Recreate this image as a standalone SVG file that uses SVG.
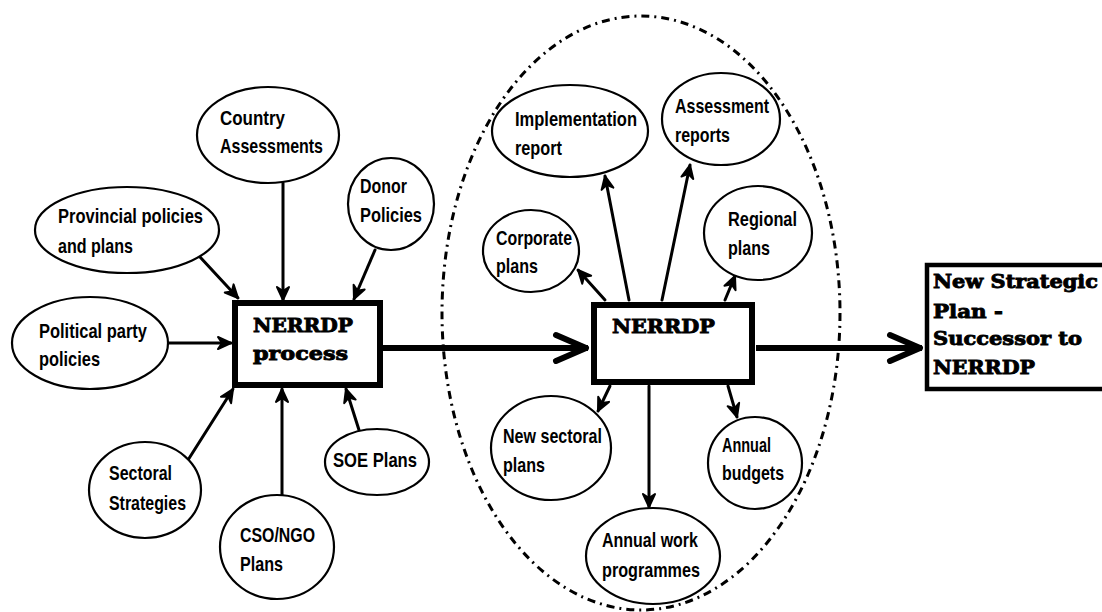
<svg xmlns="http://www.w3.org/2000/svg" width="1102" height="612" viewBox="0 0 1102 612">
<style>
.bg{fill:#fff}
.ell{fill:#fff;stroke:#000;stroke-width:2.2}
.t{font-family:"Liberation Sans Narrow","Liberation Sans",Arial,sans-serif;font-weight:bold;font-size:21px;fill:#000}
.b{font-family:"DejaVu Serif","Liberation Serif",serif;font-weight:bold;font-size:19px;fill:#000;stroke:#000;stroke-width:0.9}
.box{fill:#fff;stroke:#000;stroke-width:6}
.c{stroke:#000;stroke-width:3;fill:none;stroke-linecap:round}
.m{stroke:#000;stroke-width:6;fill:none}
</style>
<defs>
<marker id="ah" viewBox="-16 -10 20 20" markerWidth="20" markerHeight="20" refX="0" refY="0" orient="auto" markerUnits="userSpaceOnUse" overflow="visible">
<path d="M-13,-6 L0,0 L-13,6 L-9,0 Z" fill="#000" stroke="#000" stroke-width="2" stroke-linejoin="round"/>
</marker>
<marker id="big" viewBox="-40 -20 44 40" markerWidth="44" markerHeight="40" refX="0" refY="0" orient="auto" markerUnits="userSpaceOnUse" overflow="visible">
<path d="M-32,-13 L-2,0 L-32,13" fill="none" stroke="#000" stroke-width="6" stroke-linecap="round" stroke-linejoin="round"/>
</marker>
</defs>
<rect class="bg" x="0" y="0" width="1102" height="612"/>

<ellipse id="boundary" cx="641" cy="313" rx="199" ry="297" fill="none" stroke="#000" stroke-width="3" stroke-dasharray="8 5 2 5"/>

<g id="connectors">
<line class="c" x1="283" y1="183" x2="283" y2="300" marker-end="url(#ah)"/>
<line class="c" x1="375" y1="250" x2="354" y2="299" marker-end="url(#ah)"/>
<line class="c" x1="200" y1="257" x2="238" y2="298" marker-end="url(#ah)"/>
<line class="c" x1="167" y1="343" x2="231" y2="343" marker-end="url(#ah)"/>
<line class="c" x1="188" y1="460" x2="233" y2="389" marker-end="url(#ah)"/>
<line class="c" x1="282" y1="495" x2="282" y2="389" marker-end="url(#ah)"/>
<line class="c" x1="359" y1="430" x2="346" y2="389" marker-end="url(#ah)"/>
<line class="m" x1="381" y1="348" x2="588" y2="348" marker-end="url(#big)"/>
<line class="m" x1="756" y1="348" x2="922" y2="348" marker-end="url(#big)"/>
<line class="c" x1="629" y1="300" x2="605" y2="176" marker-end="url(#ah)"/>
<line class="c" x1="662" y1="300" x2="690" y2="165" marker-end="url(#ah)"/>
<line class="c" x1="605" y1="300" x2="578" y2="270" marker-end="url(#ah)"/>
<line class="c" x1="725" y1="300" x2="735" y2="276" marker-end="url(#ah)"/>
<line class="c" x1="610" y1="386" x2="598" y2="411" marker-end="url(#ah)"/>
<line class="c" x1="649" y1="386" x2="649" y2="507" marker-end="url(#ah)"/>
<line class="c" x1="728" y1="386" x2="737" y2="417" marker-end="url(#ah)"/>
</g>

<g id="country">
<ellipse class="ell" cx="268" cy="135" rx="71" ry="48"/>
<text class="t" x="220" y="125" textLength="65" lengthAdjust="spacingAndGlyphs">Country</text>
<text class="t" x="220" y="153" textLength="103" lengthAdjust="spacingAndGlyphs">Assessments</text>
</g>
<g id="donor">
<ellipse class="ell" cx="391" cy="204" rx="43" ry="46"/>
<text class="t" x="360" y="193" textLength="47" lengthAdjust="spacingAndGlyphs">Donor</text>
<text class="t" x="360" y="222" textLength="62" lengthAdjust="spacingAndGlyphs">Policies</text>
</g>
<g id="provincial">
<ellipse class="ell" cx="127" cy="230" rx="92" ry="43"/>
<text class="t" x="58" y="223" textLength="145" lengthAdjust="spacingAndGlyphs">Provincial policies</text>
<text class="t" x="58" y="253" textLength="75" lengthAdjust="spacingAndGlyphs">and plans</text>
</g>
<g id="political">
<ellipse class="ell" cx="90" cy="343" rx="78" ry="46"/>
<text class="t" x="39" y="338" textLength="108" lengthAdjust="spacingAndGlyphs">Political party</text>
<text class="t" x="39" y="366" textLength="61" lengthAdjust="spacingAndGlyphs">policies</text>
</g>
<g id="sectoral">
<ellipse class="ell" cx="145" cy="490" rx="56" ry="48"/>
<text class="t" x="109" y="480" textLength="63" lengthAdjust="spacingAndGlyphs">Sectoral</text>
<text class="t" x="109" y="510" textLength="77" lengthAdjust="spacingAndGlyphs">Strategies</text>
</g>
<g id="cso">
<ellipse class="ell" cx="277" cy="547" rx="57" ry="52"/>
<text class="t" x="240" y="542" textLength="75" lengthAdjust="spacingAndGlyphs">CSO/NGO</text>
<text class="t" x="240" y="571" textLength="43" lengthAdjust="spacingAndGlyphs">Plans</text>
</g>
<g id="soe">
<ellipse class="ell" cx="377" cy="462" rx="52" ry="33"/>
<text class="t" x="333" y="467" textLength="84" lengthAdjust="spacingAndGlyphs">SOE Plans</text>
</g>
<g id="process">
<rect class="box" x="235" y="303" width="145" height="82"/>
<text class="b" x="253" y="332" textLength="100" lengthAdjust="spacingAndGlyphs">NERRDP</text>
<text class="b" x="253" y="360" textLength="95" lengthAdjust="spacingAndGlyphs">process</text>
</g>

<g id="implementation">
<ellipse class="ell" cx="570" cy="131" rx="78" ry="46"/>
<text class="t" x="515" y="126" textLength="122" lengthAdjust="spacingAndGlyphs">Implementation</text>
<text class="t" x="515" y="155" textLength="47" lengthAdjust="spacingAndGlyphs">report</text>
</g>
<g id="assessment">
<ellipse class="ell" cx="721" cy="119" rx="59" ry="46"/>
<text class="t" x="675" y="113" textLength="94" lengthAdjust="spacingAndGlyphs">Assessment</text>
<text class="t" x="675" y="142" textLength="55" lengthAdjust="spacingAndGlyphs">reports</text>
</g>
<g id="corporate">
<ellipse class="ell" cx="531" cy="251" rx="48" ry="41"/>
<text class="t" x="496" y="245" textLength="76" lengthAdjust="spacingAndGlyphs">Corporate</text>
<text class="t" x="496" y="273" textLength="42" lengthAdjust="spacingAndGlyphs">plans</text>
</g>
<g id="regional">
<ellipse class="ell" cx="758" cy="233" rx="54" ry="47"/>
<text class="t" x="728" y="226" textLength="69" lengthAdjust="spacingAndGlyphs">Regional</text>
<text class="t" x="728" y="255" textLength="42" lengthAdjust="spacingAndGlyphs">plans</text>
</g>
<g id="nerrdp">
<rect class="box" x="594" y="305" width="158" height="77"/>
<text class="b" x="612" y="333" textLength="103" lengthAdjust="spacingAndGlyphs">NERRDP</text>
</g>
<g id="newsectoral">
<ellipse class="ell" cx="551" cy="448" rx="60" ry="52"/>
<text class="t" x="503" y="443" textLength="99" lengthAdjust="spacingAndGlyphs">New sectoral</text>
<text class="t" x="503" y="472" textLength="42" lengthAdjust="spacingAndGlyphs">plans</text>
</g>
<g id="budgets">
<ellipse class="ell" cx="755" cy="463" rx="47" ry="46"/>
<text class="t" x="722" y="452" textLength="49" lengthAdjust="spacingAndGlyphs">Annual</text>
<text class="t" x="722" y="480" textLength="62" lengthAdjust="spacingAndGlyphs">budgets</text>
</g>
<g id="workprog">
<ellipse class="ell" cx="653" cy="556" rx="67" ry="48"/>
<text class="t" x="602" y="547" textLength="96" lengthAdjust="spacingAndGlyphs">Annual work</text>
<text class="t" x="602" y="577" textLength="98" lengthAdjust="spacingAndGlyphs">programmes</text>
</g>

<g id="successor">
<rect x="927" y="265" width="190" height="124" fill="#fff" stroke="#000" stroke-width="4.5"/>
<text class="b" x="933" y="288" textLength="165" lengthAdjust="spacingAndGlyphs">New Strategic</text>
<text class="b" x="933" y="318" textLength="70" lengthAdjust="spacingAndGlyphs">Plan -</text>
<text class="b" x="933" y="345" textLength="149" lengthAdjust="spacingAndGlyphs">Successor to</text>
<text class="b" x="933" y="374" textLength="102" lengthAdjust="spacingAndGlyphs">NERRDP</text>
</g>
</svg>
